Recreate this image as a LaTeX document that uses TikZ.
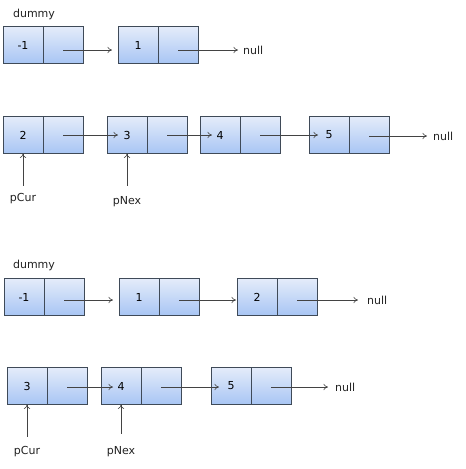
\documentclass[tikz,border=0pt]{standalone}
\usepackage{fontspec}
\setmainfont{DejaVu Sans}
\usetikzlibrary{arrows.meta,positioning,shadows}
\definecolor{celltop}{HTML}{E4ECFA}
\definecolor{cellbot}{HTML}{A8C5F4}
\definecolor{edge}{HTML}{3F4A58}
\definecolor{ink}{HTML}{222222}

\begin{document}
\begin{tikzpicture}[
  x=1pt,y=-1pt,
  cell/.style={draw=edge, line width=0.8pt, top color=celltop,
    bottom color=cellbot, minimum width=40pt, minimum height=37pt,
    inner sep=0pt, outer sep=0pt, font=\fontsize{11}{13}\selectfont,
    drop shadow={shadow xshift=0.8pt, shadow yshift=-0.8pt,
      opacity=0.3, fill=black}},
  link/.style={-{To[length=1.6mm,width=2.2mm]}, draw=ink!85,
    line width=0.6pt},
  tag/.style={font=\fontsize{11}{13}\selectfont, inner sep=0pt, text=ink}
]
\useasboundingbox (0,0) rectangle (466,469);

% Row A: dummy -> 1 -> null
\node[tag] (dummyA) at (34,14) {dummy};
\node[cell] (a1v) at (23,45) {-1};
\node[cell, right=0pt of a1v] (a1p) {};
\node[cell] (a2v) at (138,45) {1};
\node[cell, right=0pt of a2v] (a2p) {};
\node[tag, anchor=west] (nullA) at (243,50) {null};

\draw[link] ([yshift=-5pt]a1p.center) -- ([xshift=-6pt,yshift=-5pt]a2v.west);
\draw[link] ([yshift=-5pt]a2p.center) -- ([xshift=-5pt]nullA.west);

% Row B: 2 -> 3 -> 4 -> 5 -> null
\node[cell] (b1v) at (23,135) {2};
\node[cell, right=0pt of b1v] (b1p) {};
\node[cell] (b2v) at (127,135) {3};
\node[cell, right=0pt of b2v] (b2p) {};
\node[cell] (b3v) at (220,135) {4};
\node[cell, right=0pt of b3v] (b3p) {};
\node[cell] (b4v) at (329,135) {5};
\node[cell, right=0pt of b4v] (b4p) {};
\node[tag, anchor=west] (nullB) at (433,136) {null};

\draw[link] (b1p.center) -- ([xshift=11pt]b2v.west);
\draw[link] (b2p.center) -- ([xshift=12pt]b3v.west);
\draw[link] (b3p.center) -- ([xshift=9pt]b4v.west);
\draw[link] ([yshift=-1pt]b4p.center) -- ([xshift=-6pt]nullB.west);

\node[tag, below=40pt of b1v] (curB) {pCur};
\node[tag, below=43pt of b2v] (nexB) {pNex};
\draw[link] ([yshift=8pt]curB.north) -- (b1v.south);
\draw[link] ([yshift=11pt]nexB.north) -- (b2v.south);

% Row C: dummy -> 1 -> 2 -> null
\node[tag] (dummyC) at (34,265) {dummy};
\node[cell] (c1v) at (24,297) {-1};
\node[cell, right=0pt of c1v] (c1p) {};
\node[cell] (c2v) at (139,297) {1};
\node[cell, right=0pt of c2v] (c2p) {};
\node[cell] (c3v) at (257,297) {2};
\node[cell, right=0pt of c3v] (c3p) {};
\node[tag, anchor=west] (nullC) at (367,300) {null};

\draw[link] ([yshift=-3pt]c1p.center) -- ([xshift=-6pt,yshift=-3pt]c2v.west);
\draw[link] ([yshift=-3pt]c2p.center) -- ([xshift=-1pt,yshift=-3pt]c3v.west);
\draw[link] ([yshift=-3pt]c3p.center) -- ([xshift=-9pt]nullC.west);

% Row D: 3 -> 4 -> 5 -> null
\node[cell] (d1v) at (27,386) {3};
\node[cell, right=0pt of d1v] (d1p) {};
\node[cell] (d2v) at (121,386) {4};
\node[cell, right=0pt of d2v] (d2p) {};
\node[cell] (d3v) at (231,386) {5};
\node[cell, right=0pt of d3v] (d3p) {};
\node[tag, anchor=west] (nullD) at (335,387) {null};

\draw[link] ([yshift=-1pt]d1p.center) -- ([xshift=12pt,yshift=-1pt]d2v.west);
\draw[link] ([yshift=-1pt]d2p.center) -- ([xshift=8pt,yshift=-1pt]d3v.west);
\draw[link] ([yshift=-1pt]d3p.center) -- ([xshift=-7pt]nullD.west);

\node[tag, below=42pt of d1v] (curD) {pCur};
\node[tag, below=42pt of d2v] (nexD) {pNex};
\draw[link] ([yshift=10pt]curD.north) -- (d1v.south);
\draw[link] ([yshift=13pt]nexD.north) -- (d2v.south);

\end{tikzpicture}
\end{document}
